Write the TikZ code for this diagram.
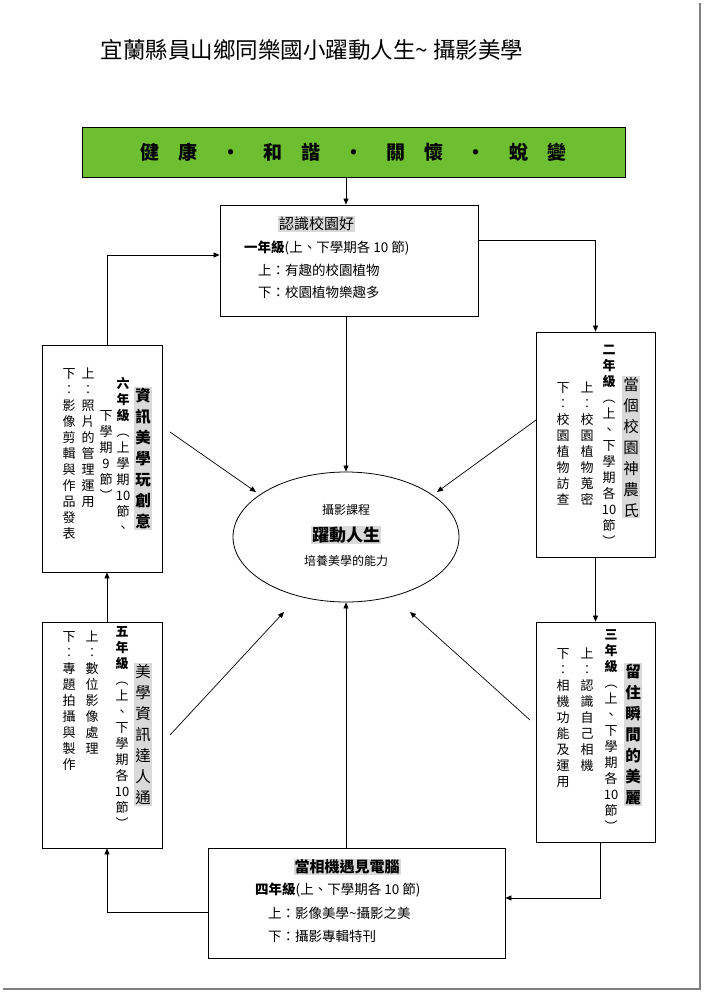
\documentclass[tikz,border=0pt]{standalone}
\usepackage{fontspec}
\setmainfont{Noto Sans CJK TC}
\usetikzlibrary{shapes.geometric,arrows.meta}
\ExplSyntaxOn
\NewDocumentCommand\vt{m}{\seq_clear:N \l_tmpa_seq \tl_map_inline:nn {#1}{\seq_put_right:Nn \l_tmpa_seq {##1}}\seq_use:Nn \l_tmpa_seq {\\}}
\ExplSyntaxOff
\definecolor{grn}{RGB}{110,190,50}
\tikzset{
 box/.style={draw,line width=0.8pt},
 col/.style={anchor=north,align=center,inner sep=0pt,font=\fontsize{13}{16}\selectfont},
 ttl/.style={anchor=north,align=center,inner sep=1pt,fill=black!15,font=\fontsize{15.5}{21}\selectfont},
 ar/.style={-{Triangle[length=6pt,width=5pt]},line width=0.7pt},
 txt/.style={inner sep=0pt,font=\fontsize{13.5}{16}\selectfont}
}
\begin{document}
\begin{tikzpicture}[x=1pt,y=-1pt]
\useasboundingbox (0,0) rectangle (704,992);
\fill[white] (0,0) rectangle (704,992);
\draw[black!50,line width=1.5pt] (700,3) -- (700,989) -- (3,989);
\node[font=\fontsize{22.5}{26}\selectfont] (title) at (312,50) {宜蘭縣員山鄉同樂國小躍動人生\textasciitilde{}\ 攝影美學};
% green
\node[box,fill=grn,minimum width=543pt,minimum height=50pt,font=\fontsize{19}{22}\selectfont\bfseries] (g) at (353.5,152) {健\quad 康\quad\ ·\ \quad 和\quad 諧\quad\ ·\ \quad 關\quad 懷\quad\ ·\ \quad 蛻\quad 變};
% top box
\node[box,minimum width=258pt,minimum height=111pt] (b1) at (349,260.5) {};
\node[txt,fill=black!15,inner sep=1pt,font=\fontsize{15}{17}\selectfont,anchor=west] (t1) at (278,224) {認識校園好\hspace{2em}};
\node[txt,anchor=west] (l1a) at (244,248) {\textbf{一年級}(上、下學期各 10 節)};
\node[txt,anchor=west] (l1b) at (258,270) {上：有趣的校園植物};
\node[txt,anchor=west] (l1c) at (258,292) {下：校園植物樂趣多};
% box2
\node[box,minimum width=119pt,minimum height=225pt] (b2) at (595.5,444.5) {};
\node[ttl] (t2) at (631,376) {\vt{當個校園神農氏}};
\node[col] (c2a) at (609,345) {\vt{{\bfseries 二}{\bfseries 年}{\bfseries 級}︵上、下學期各{10}節︶}};
\node[col] (c2b) at (587,382) {\vt{上︰校園植物蒐密}};
\node[col] (c2c) at (563,382) {\vt{下︰校園植物訪查}};
% box3
\node[box,minimum width=119pt,minimum height=220pt] (b3) at (595.5,732) {};
\node[ttl,font=\fontsize{15.5}{21}\selectfont\bfseries] (t3) at (633,663) {\vt{留住瞬間的美麗}};
\node[col] (c3a) at (611,629) {\vt{{\bfseries 三}{\bfseries 年}{\bfseries 級}︵上、下學期各{10}節︶}};
\node[col] (c3b) at (587,648) {\vt{上︰認識自己相機}};
\node[col] (c3c) at (563,648) {\vt{下︰相機功能及運用}};
% bottom box
\node[box,minimum width=297pt,minimum height=110pt] (b4) at (356.5,903) {};
\node[txt,fill=black!15,inner sep=1pt,font=\fontsize{15}{17}\selectfont\bfseries] (t4) at (347,867) {當相機遇見電腦};
\node[txt,anchor=west] (l4a) at (255,890) {\textbf{四年級}(上、下學期各 10 節)};
\node[txt,anchor=west] (l4b) at (268,913) {上：影像美學\textasciitilde 攝影之美};
\node[txt,anchor=west] (l4c) at (268,936) {下：攝影專輯特刊};
% box5
\node[box,minimum width=120pt,minimum height=226pt] (b5) at (102,735) {};
\node[ttl] (t5) at (143,663) {\vt{美學資訊達人通}};
\node[col] (c5a) at (122,626) {\vt{{\bfseries 五}{\bfseries 年}{\bfseries 級}︵上、下學期各{10}節︶}};
\node[col] (c5b) at (92,631) {\vt{上︰數位影像處理}};
\node[col] (c5c) at (69,631) {\vt{下︰專題拍攝與製作}};
% box6
\node[box,minimum width=120pt,minimum height=227pt] (b6) at (102,458.5) {};
\node[ttl,font=\fontsize{15.5}{21}\selectfont\bfseries] (t6) at (143,387) {\vt{資訊美學玩創意}};
\node[col] (c6a) at (123,377) {\vt{{\bfseries 六}{\bfseries 年}{\bfseries 級}︵上學期{10}節、}};
\node[col] (c6b) at (106,410) {\vt{下學期9節︶}};
\node[col] (c6c) at (88,368) {\vt{上︰照片的管理運用}};
\node[col] (c6d) at (69,368) {\vt{下︰影像剪輯與作品發表}};
% ellipse
\node[ellipse,draw,line width=0.8pt,minimum width=226pt,minimum height=130pt] (e) at (346,537) {};
\node[txt,font=\fontsize{12}{14}\selectfont] (e1) at (346,510) {攝影課程};
\node[txt,fill=black!15,inner sep=1pt,font=\fontsize{17}{20}\selectfont\bfseries] (e2) at (346,535) {躍動人生};
\node[txt,font=\fontsize{12}{14}\selectfont] (e3) at (346,561) {培養美學的能力};
% flow arrows
\draw[ar] (g.south -| 346,0) -- (b1.north -| 346,0);
\draw[ar] (b1.east |- 0,240) -| (b2.north);
\draw[ar] (b2.south) -- (b3.north);
\draw[ar] (b3.south -| 600,0) |- (b4.east |- 0,898);
\draw[ar] (b4.west |- 0,912) -| (b5.south -| 107,0);
\draw[ar] (b5.north -| 107,0) -- (b6.south -| 107,0);
\draw[ar] (b6.north -| 107,0) |- (b1.west |- 0,255);
% to ellipse
\coordinate (p6) at (170,432);
\coordinate (p2) at (536,420);
\coordinate (p3) at (530,720);
\coordinate (p5) at (170,735);
\draw[ar] (b1.south -| 346,0) -- (e.north);
\draw[ar] (p6) -- (256,492);
\draw[ar] (p2) -- (437,492);
\draw[ar] (p3) -- (410,612);
\draw[ar] (p5) -- (284,612);
\draw[ar] (b4.north -| e.south) -- (e.south);
\end{tikzpicture}
\end{document}
